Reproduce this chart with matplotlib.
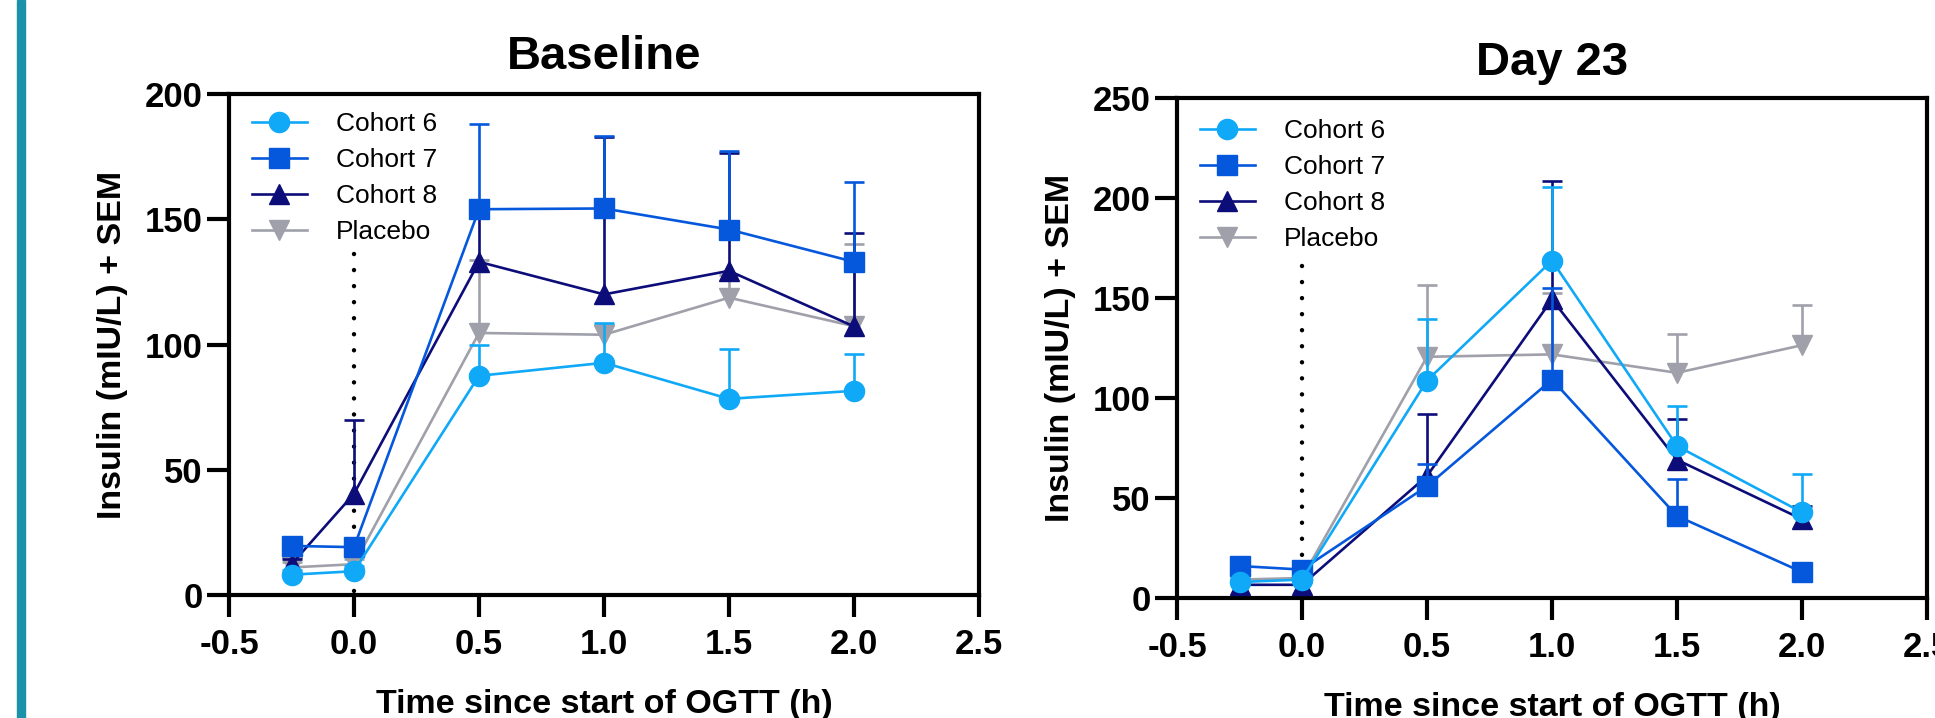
import numpy as np
import matplotlib
matplotlib.use("Agg")
import matplotlib.pyplot as plt
from matplotlib.patches import Rectangle

plt.rcParams['font.family'] = ['Liberation Sans', 'DejaVu Sans']
plt.rcParams['axes.unicode_minus'] = False

# ---------------- data ----------------
time_h = [-0.25, 0.0, 0.5, 1.0, 1.5, 2.0]
series_names = ["Cohort 6", "Cohort 7", "Cohort 8", "Placebo"]

# Baseline means and +SEM
base_c6 = [8.1, 9.5, 87.5, 92.7, 78.3, 81.5]
base_c6_sem = [2.0, 2.0, 12.3, 15.7, 19.9, 14.6]
base_c7 = [19.6, 19.1, 154.0, 154.3, 145.9, 133.0]
base_c7_sem = [2.0, 2.0, 34.0, 29.0, 31.5, 32.0]
base_c8 = [12.3, 40.4, 133.0, 120.0, 129.4, 107.2]
base_c8_sem = [2.0, 29.3, 18.0, 63.0, 47.0, 37.2]
base_pl = [11.0, 12.3, 104.6, 103.9, 118.7, 107.3]
base_pl_sem = [2.0, 2.0, 29.2, 4.0, 9.0, 33.0]

# Day 23 means and +SEM
d23_c6 = [8.0, 9.2, 108.7, 168.7, 76.0, 42.8]
d23_c6_sem = [2.0, 2.0, 30.7, 36.7, 20.2, 19.0]
d23_c7 = [16.0, 14.2, 55.9, 109.2, 41.0, 13.0]
d23_c7_sem = [2.0, 2.0, 10.9, 45.8, 18.5, 2.0]
d23_c8 = [6.6, 6.6, 61.0, 149.3, 69.1, 39.4]
d23_c8_sem = [2.0, 2.0, 30.8, 59.0, 20.2, 6.8]
d23_pl = [9.2, 10.0, 120.6, 121.8, 112.6, 126.4]
d23_pl_sem = [2.0, 2.0, 36.0, 30.9, 19.4, 20.1]

base_yticks = [0, 50, 100, 150, 200]
d23_yticks = [0, 50, 100, 150, 200, 250]
xticks = [-0.5, 0.0, 0.5, 1.0, 1.5, 2.0, 2.5]
xtick_labels = ["-0.5", "0.0", "0.5", "1.0", "1.5", "2.0", "2.5"]
base_ref_top = 136
d23_ref_top = 166

# ---------------- styles ----------------
colors = ["#10a9f7", "#0558dc", "#0d0d7a", "#a0a0ab"]
markers = ["o", "s", "^", "v"]

fig = plt.figure(figsize=(19.35, 7.18), dpi=100)
fig.add_artist(Rectangle((17 / 1935, 0), 8 / 1935, 1, transform=fig.transFigure,
                         color="#1b91aa", zorder=0))

ax1 = fig.add_axes([229 / 1935, 1 - 595 / 718, 750 / 1935, 501 / 718])
ax2 = fig.add_axes([1177 / 1935, 1 - 598 / 718, 750 / 1935, 500 / 718])


def draw_panel(ax, means, sems, yticks, ref_top, title, title_y, leg_top):
    ax.plot([0, 0], [ref_top, 0], color="black", lw=3.2,
            linestyle=(0, (0.01, 3.6)), dash_capstyle="round", zorder=1)
    order = [3, 2, 1, 0]
    handles = {}
    for z, i in enumerate(order):
        y = np.array(means[i], dtype=float)
        e = np.array(sems[i], dtype=float)
        line, caps, bars = ax.errorbar(time_h, y, yerr=[np.zeros_like(e), e],
                                       color=colors[i], marker=markers[i], ms=14.5,
                                       lw=1.9, elinewidth=1.9, capsize=7, capthick=1.9,
                                       zorder=3 + z, label=series_names[i],
                                       clip_on=False)
        for cl in caps:
            if np.allclose(cl.get_ydata(), y):
                cl.set_visible(False)
        handles[i] = line
    ax.set_xlim(-0.5, 2.5)
    ax.set_ylim(0, yticks[-1])
    ax.set_xticks(xticks)
    ax.set_xticklabels(xtick_labels)
    ax.set_yticks(yticks)
    ax.set_yticklabels([str(t) for t in yticks])
    for sp in ax.spines.values():
        sp.set_linewidth(3.0)
    ax.tick_params(axis="both", direction="out", length=16, width=3.0,
                   labelsize=25, pad=3)
    ax.tick_params(axis="x", pad=8)
    for lab in ax.get_xticklabels() + ax.get_yticklabels():
        lab.set_fontweight("bold")
    ax.set_xlabel("Time since start of OGTT (h)", fontsize=24.5, fontweight="bold",
                  labelpad=20)
    ax.set_ylabel("Insulin (mIU/L) + SEM", fontsize=24.5, fontweight="bold",
                  labelpad=12)
    ax.set_title(title, fontsize=34, fontweight="bold", y=title_y)
    ax.legend([handles[i] for i in range(4)], series_names,
              loc="upper left", bbox_to_anchor=(0.0307, leg_top),
              frameon=False, fontsize=19, handlelength=2.08,
              handletextpad=1.1, labelspacing=0.46, borderpad=0,
              borderaxespad=0)


draw_panel(ax1, [base_c6, base_c7, base_c8, base_pl],
           [base_c6_sem, base_c7_sem, base_c8_sem, base_pl_sem],
           base_yticks, base_ref_top, "Baseline", 1.033, 0.964)
draw_panel(ax2, [d23_c6, d23_c7, d23_c8, d23_pl],
           [d23_c6_sem, d23_c7_sem, d23_c8_sem, d23_pl_sem],
           d23_yticks, d23_ref_top, "Day 23", 1.03, 0.958)

fig.savefig("out.png", dpi=100)
